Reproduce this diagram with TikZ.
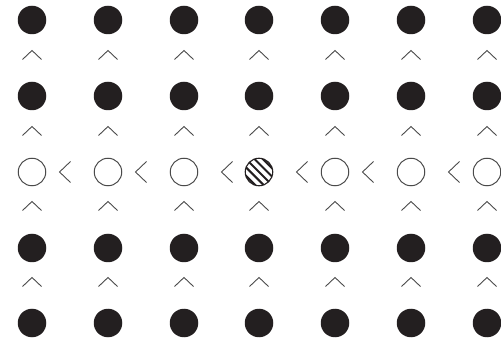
\documentclass[tikz,border=0pt]{standalone}
\usetikzlibrary{calc}
\definecolor{dotc}{HTML}{231F20}
\definecolor{linec}{HTML}{4A4A4A}
\begin{document}
\begin{tikzpicture}[x=1pt,y=-1pt,
  dot/.style={circle,fill=dotc,inner sep=0pt,minimum size=28.5pt},
  hole/.style={circle,draw=linec,line width=1pt,inner sep=0pt,minimum size=27.5pt},
  hatched/.style={circle,draw=dotc,line width=1.1pt,inner sep=0pt,minimum size=27.5pt,path picture={
      \foreach \s in {-12,-6,...,12}
        \draw[dotc,line width=2.1pt]
          ($(path picture bounding box.center)+(\s*0.7071,-\s*0.7071)+(-16,-16)$) --
          ($(path picture bounding box.center)+(\s*0.7071,-\s*0.7071)+(16,16)$);}},
  rel/.style={draw=linec,line width=0.9pt,line join=miter}]
\useasboundingbox (0,0) rectangle (501,339);
% grid of nodes
\foreach \c/\x in {1/32,2/108,3/184,4/259,5/335,6/411,7/487}{
  \foreach \r/\y in {1/20,2/96,4/248,5/323}
    \node[dot] (n\r\c) at (\x,\y) {};
}
\foreach \c/\x in {1/32,2/108,3/184,5/335,6/411,7/487}
  \node[hole] (n3\c) at (\x,172) {};
\node[hatched] (n34) at (259,172) {};
% vertical relations (carets)
\foreach \c in {1,...,7}{
  \foreach \r/\dy in {1/35,2/35,3/34,4/34}{
    \draw[rel] ($(n\r\c)+(-9.5,\dy+4.5)$) -- ($(n\r\c)+(0,\dy-4.5)$) -- ($(n\r\c)+(9.5,\dy+4.5)$);
  }
}
% horizontal relations in the middle row
\foreach \c/\dx in {1/33,2/33,3/43,4/43,5/33,6/43}{
  \draw[rel] ($(n3\c)+(\dx+5.5,-10.5)$) -- ($(n3\c)+(\dx-5.5,0)$) -- ($(n3\c)+(\dx+5.5,10.5)$);
}
\end{tikzpicture}
\end{document}
